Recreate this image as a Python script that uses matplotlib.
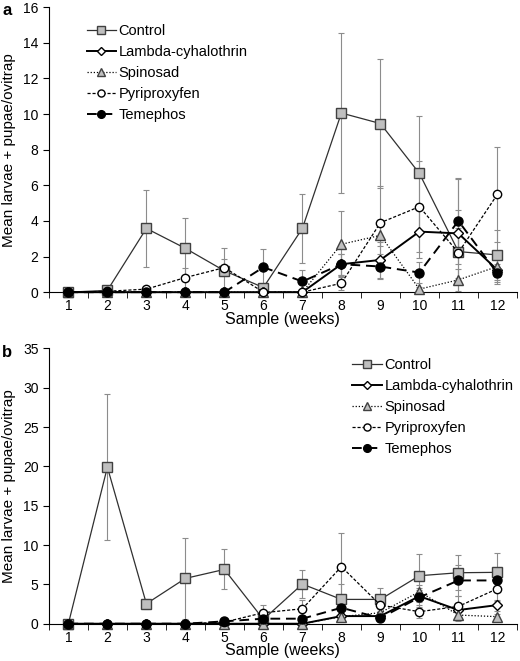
import numpy as np
import matplotlib
matplotlib.use("Agg")
import matplotlib.pyplot as plt

plt.rcParams['font.family'] = ['Liberation Sans', 'DejaVu Sans']

weeks = np.arange(1, 13)
labels = ['Control', 'Lambda-cyhalothrin', 'Spinosad', 'Pyriproxyfen', 'Temephos']

# panel a
control_a = [0, 0.1, 3.58, 2.46, 1.2, 0.26, 3.58, 10.06, 9.47, 6.67, 2.28, 2.09]
control_a_err = [0, 0.05, 2.15, 1.7, 1.3, 0.1, 1.95, 4.5, 3.6, 3.25, 4.1, 1.4]
lambda_a = [0, 0, 0, 0, 0, 0, 0, 1.57, 1.81, 3.4, 3.3, 1.25]
lambda_a_err = [0, 0, 0, 0, 0, 0, 0, 0.6, 1.0, 1.5, 1.3, 0.8]
spinosad_a = [0, 0, 0, 0, 0, 0, 0, 2.69, 3.19, 0.17, 0.69, 1.44]
spinosad_a_err = [0, 0, 0, 0, 0, 0, 0, 1.86, 0.6, 0.1, 0.6, 0.6]
pyri_a = [0, 0.05, 0.17, 0.82, 1.38, 0, 0, 0.5, 3.9, 4.8, 2.22, 5.49]
pyri_a_err = [0, 0.05, 0.1, 0.56, 0.5, 0, 0, 0.4, 2.07, 2.56, 1.4, 2.65]
teme_a = [0, 0, 0, 0, 0, 1.4, 0.6, 1.57, 1.44, 1.1, 4.0, 1.06]
teme_a_err = [0, 0, 0, 0, 0, 1.0, 0.65, 0.6, 0.7, 0.6, 2.4, 0.5]

# panel b
control_b = [0, 19.9, 2.54, 5.76, 6.9, 0.55, 5.04, 3.09, 3.09, 6.1, 6.48, 6.53]
control_b_err = [0, 9.25, 0.65, 5.1, 2.55, 0.3, 1.8, 1.9, 1.45, 2.75, 2.2, 2.4]
lambda_b = [0, 0, 0, 0, 0, 0, 0, 0.97, 0.97, 3.5, 1.74, 2.37]
lambda_b_err = [0, 0, 0, 0, 0, 0, 0, 0.4, 0.5, 0.8, 0.8, 0.7]
spinosad_b = [0, 0, 0, 0, 0, 0, 0, 0.9, 1.4, 4.07, 1.1, 0.9]
spinosad_b_err = [0, 0, 0, 0, 0, 0, 0, 0.4, 0.5, 0.9, 0.7, 0.3]
pyri_b = [0, 0, 0, 0, 0.2, 1.4, 1.9, 7.25, 2.37, 1.53, 2.2, 4.45]
pyri_b_err = [0, 0, 0, 0, 0.1, 1.0, 1.1, 4.3, 1.2, 0.8, 1.3, 1.5]
teme_b = [0, 0, 0, 0, 0.3, 0.64, 0.64, 2.03, 0.72, 3.35, 5.5, 5.5]
teme_b_err = [0, 0, 0, 0, 0.1, 0.3, 0.3, 0.8, 0.4, 1.2, 2.0, 1.0]

styles = [
    dict(color='#303030', lw=0.9, ls='-', marker='s', ms=7, mfc='#bfbfbf', mec='#404040'),
    dict(color='black', lw=1.4, ls='-', marker='D', ms=5, mfc='white', mec='black'),
    dict(color='black', lw=0.9, ls=(0, (1, 1.5)), marker='^', ms=7, mfc='#bfbfbf', mec='#404040'),
    dict(color='black', lw=0.9, ls=(0, (2.5, 1.5)), marker='o', ms=6, mfc='white', mec='black'),
    dict(color='black', lw=1.4, ls=(0, (5, 3)), marker='o', ms=6.5, mfc='black', mec='black'),
]


def draw(ax, series, errs, ymax, step, legend_pos):
    for y, e in zip(series, errs):
        ax.errorbar(weeks, y, yerr=e, fmt='none', ecolor='#8c8c8c',
                    elinewidth=0.8, capsize=2, capthick=0.8, zorder=1)
    handles = []
    for y, lab, st in zip(series, labels, styles):
        h, = ax.plot(weeks, y, label=lab, zorder=3, clip_on=False, **st)
        handles.append(h)
    ax.set_xlim(0.5, 12.5)
    ax.set_ylim(0, ymax)
    ax.set_yticks(np.arange(0, ymax + 0.1, step))
    ax.set_xticks(weeks)
    ax.set_xticks(np.arange(0.5, 12.6, 1), minor=True)
    ax.tick_params(axis='x', which='major', length=0, labelsize=10, pad=5)
    ax.tick_params(axis='x', which='minor', length=4, direction='out')
    ax.tick_params(axis='y', length=4, direction='out', labelsize=10)
    for s in ['top', 'right']:
        ax.spines[s].set_visible(False)
    ax.set_xlabel('Sample (weeks)', fontsize=11.5, labelpad=-1)
    ax.set_ylabel('Mean larvae + pupae/ovitrap', fontsize=11, labelpad=5)
    ax.legend(handles=handles, loc='upper left', bbox_to_anchor=legend_pos,
              frameon=False, fontsize=10.5, handlelength=2.0, handletextpad=0.2,
              labelspacing=0.48, borderaxespad=0, markerscale=0.85)


fig = plt.figure(figsize=(5.2, 6.61), dpi=100)
ax1 = fig.add_axes([0.094, 0.558, 0.9, 0.431])
ax2 = fig.add_axes([0.094, 0.0564, 0.9, 0.4166])

draw(ax1, [control_a, lambda_a, spinosad_a, pyri_a, teme_a],
     [control_a_err, lambda_a_err, spinosad_a_err, pyri_a_err, teme_a_err],
     16, 2, (0.068, 0.96))
draw(ax2, [control_b, lambda_b, spinosad_b, pyri_b, teme_b],
     [control_b_err, lambda_b_err, spinosad_b_err, pyri_b_err, teme_b_err],
     35, 5, (0.636, 0.985))

fig.text(0.004, 0.995, 'a', fontsize=12, fontweight='bold', va='top')
fig.text(0.004, 0.478, 'b', fontsize=12, fontweight='bold', va='top')

fig.savefig('out.png', dpi=100)
